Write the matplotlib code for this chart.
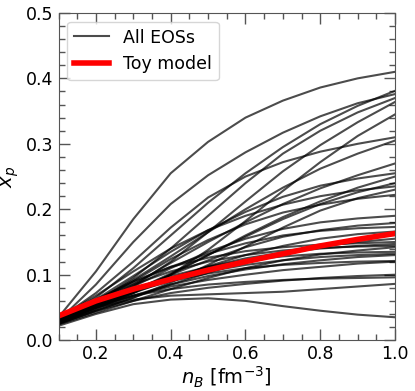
import numpy as np
import matplotlib
matplotlib.use('Agg')
import matplotlib.pyplot as plt
from matplotlib.ticker import MultipleLocator

# baryon density grid [fm^-3]
n_b = [0.1, 0.2, 0.3, 0.4, 0.5, 0.6, 0.7, 0.8, 0.9, 1.0]

# proton fraction for each EOS
eos_xp = [
    [0.035, 0.105, 0.185, 0.255, 0.303, 0.340, 0.366, 0.386, 0.400, 0.410],
    [0.030, 0.085, 0.150, 0.208, 0.252, 0.287, 0.317, 0.342, 0.362, 0.376],
    [0.032, 0.065, 0.110, 0.160, 0.210, 0.255, 0.295, 0.330, 0.358, 0.381],
    [0.028, 0.058, 0.095, 0.140, 0.190, 0.240, 0.285, 0.320, 0.348, 0.370],
    [0.026, 0.052, 0.082, 0.120, 0.165, 0.212, 0.258, 0.298, 0.333, 0.364],
    [0.030, 0.050, 0.072, 0.100, 0.138, 0.182, 0.228, 0.272, 0.312, 0.345],
    [0.032, 0.072, 0.120, 0.172, 0.218, 0.250, 0.272, 0.288, 0.300, 0.310],
    [0.030, 0.060, 0.092, 0.128, 0.165, 0.200, 0.233, 0.262, 0.285, 0.305],
    [0.028, 0.055, 0.085, 0.118, 0.150, 0.180, 0.208, 0.232, 0.252, 0.270],
    [0.030, 0.062, 0.098, 0.135, 0.168, 0.196, 0.219, 0.236, 0.247, 0.255],
    [0.027, 0.050, 0.075, 0.102, 0.130, 0.158, 0.185, 0.208, 0.226, 0.240],
    [0.033, 0.068, 0.105, 0.140, 0.168, 0.190, 0.207, 0.220, 0.229, 0.235],
    [0.025, 0.045, 0.065, 0.088, 0.115, 0.143, 0.172, 0.198, 0.217, 0.230],
    [0.030, 0.058, 0.090, 0.124, 0.153, 0.177, 0.195, 0.207, 0.216, 0.222],
    [0.028, 0.055, 0.082, 0.110, 0.135, 0.155, 0.170, 0.180, 0.186, 0.190],
    [0.026, 0.050, 0.075, 0.100, 0.122, 0.142, 0.158, 0.168, 0.175, 0.179],
    [0.030, 0.060, 0.088, 0.112, 0.132, 0.148, 0.160, 0.167, 0.171, 0.173],
    [0.025, 0.045, 0.065, 0.085, 0.103, 0.120, 0.133, 0.143, 0.150, 0.155],
    [0.032, 0.062, 0.090, 0.112, 0.126, 0.136, 0.142, 0.146, 0.148, 0.150],
    [0.028, 0.052, 0.075, 0.095, 0.112, 0.125, 0.134, 0.140, 0.144, 0.147],
    [0.024, 0.042, 0.060, 0.078, 0.095, 0.110, 0.122, 0.131, 0.137, 0.142],
    [0.030, 0.055, 0.078, 0.098, 0.112, 0.122, 0.128, 0.132, 0.134, 0.135],
    [0.026, 0.048, 0.068, 0.085, 0.098, 0.108, 0.116, 0.122, 0.127, 0.130],
    [0.028, 0.050, 0.068, 0.082, 0.092, 0.100, 0.107, 0.112, 0.117, 0.120],
    [0.025, 0.045, 0.060, 0.072, 0.080, 0.086, 0.091, 0.095, 0.098, 0.100],
    [0.030, 0.052, 0.068, 0.078, 0.085, 0.089, 0.092, 0.094, 0.095, 0.096],
    [0.028, 0.050, 0.062, 0.068, 0.070, 0.072, 0.074, 0.078, 0.082, 0.086],
    [0.022, 0.040, 0.055, 0.062, 0.064, 0.060, 0.052, 0.045, 0.039, 0.035],
    [0.026, 0.048, 0.072, 0.100, 0.130, 0.160, 0.188, 0.212, 0.233, 0.250],
    [0.027, 0.050, 0.072, 0.093, 0.113, 0.130, 0.144, 0.155, 0.162, 0.166],
    [0.032, 0.060, 0.085, 0.105, 0.120, 0.130, 0.137, 0.141, 0.143, 0.144],
    [0.029, 0.053, 0.074, 0.090, 0.102, 0.110, 0.115, 0.118, 0.120, 0.121],
    [0.030, 0.055, 0.075, 0.092, 0.105, 0.115, 0.122, 0.127, 0.130, 0.132],
]

toy_xp = [0.037, 0.060, 0.078, 0.093, 0.107, 0.120, 0.132, 0.144, 0.154, 0.163]

fig = plt.figure(figsize=(4.15, 3.91), dpi=100)
ax = fig.add_axes([0.141, 0.130, 0.811, 0.837])

for i, xp in enumerate(eos_xp):
    ax.plot(n_b, xp, color='black', alpha=0.7, lw=1.5,
            label='All EOSs' if i == 0 else None)
ax.plot(n_b, toy_xp, color='red', lw=4, label='Toy model')

ax.set_xlim(0.1, 1.0)
ax.set_ylim(0.0, 0.5)
ax.xaxis.set_major_locator(MultipleLocator(0.2))
ax.xaxis.set_minor_locator(MultipleLocator(0.05))
ax.yaxis.set_major_locator(MultipleLocator(0.1))
ax.yaxis.set_minor_locator(MultipleLocator(0.02))
ax.tick_params(which='both', direction='in', top=True, right=True,
               color='#555555', labelsize=12.5)
ax.tick_params(which='major', length=8, width=1)
ax.tick_params(which='minor', length=4, width=1)
for s in ax.spines.values():
    s.set_color('#555555')

ax.set_xlabel(r'$n_B$ [fm$^{-3}$]', fontsize=14, labelpad=1)
ax.set_ylabel(r'$x_p$', fontsize=14)

ax.legend(loc='upper left', fontsize=12.5, handlelength=2.0)

fig.savefig('out.png', dpi=100)
